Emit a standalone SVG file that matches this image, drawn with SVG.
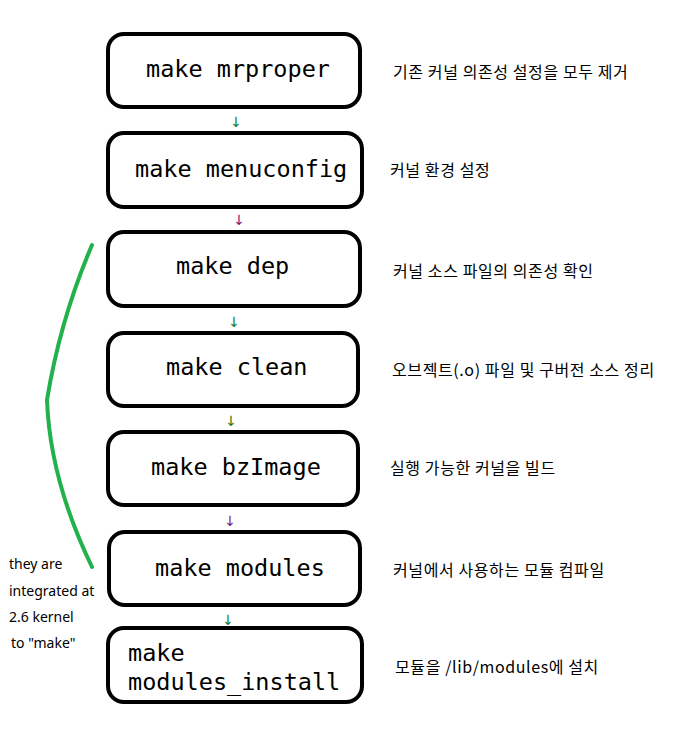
<svg xmlns="http://www.w3.org/2000/svg" width="680" height="749" viewBox="0 0 680 749">
<style>
.b{fill:#fff;stroke:#000;stroke-width:4}
.t{font-family:"DejaVu Sans Mono",monospace;font-size:23.5px;fill:#000}
.k{font-family:"Noto Sans CJK KR","Noto Sans",sans-serif;font-size:16px;letter-spacing:0.6px;fill:#000}
.a{font-family:"DejaVu Sans",sans-serif;font-size:14px;text-anchor:middle}
.n{font-family:"Noto Sans","Open Sans",sans-serif;font-size:14px;fill:#000}
</style>
<rect width="680" height="749" fill="#fff"/>
<g id="connectors">
<text class="a" x="236" y="127" fill="#1a7a1a">↓</text>
<text class="a" x="239" y="225" fill="#7a1a7a">↓</text>
<text class="a" x="234" y="327" fill="#1a7a1a">↓</text>
<text class="a" x="231" y="426" fill="#1a7a1a">↓</text>
<text class="a" x="230" y="526" fill="#7a1a7a">↓</text>
<text class="a" x="228" y="625" fill="#1a7a1a">↓</text>
</g>
<g id="n1"><rect class="b" x="108" y="34" width="252" height="73" rx="16"/><text class="t" x="146" y="77">make mrproper</text><text class="k" x="393" y="78">기존 커널 의존성 설정을 모두 제거</text></g>
<g id="n2"><rect class="b" x="108" y="133" width="254" height="74" rx="16"/><text class="t" x="135" y="177">make menuconfig</text><text class="k" x="390" y="176">커널 환경 설정</text></g>
<g id="n3"><rect class="b" x="108" y="232" width="252" height="74" rx="16"/><text class="t" x="176" y="274">make dep</text><text class="k" x="393" y="277">커널 소스 파일의 의존성 확인</text></g>
<g id="n4"><rect class="b" x="108" y="333" width="250" height="73" rx="16"/><text class="t" x="166" y="375">make clean</text><text class="k" x="392" y="376">오브젝트(.o) 파일 및 구버전 소스 정리</text></g>
<g id="n5"><rect class="b" x="108" y="432" width="250" height="73" rx="16"/><text class="t" x="151" y="475">make bzImage</text><text class="k" x="390" y="474">실행 가능한 커널을 빌드</text></g>
<g id="n6"><rect class="b" x="109" y="532" width="251" height="73" rx="16"/><text class="t" x="155" y="576">make modules</text><text class="k" x="393" y="576">커널에서 사용하는 모듈 컴파일</text></g>
<g id="n7"><rect class="b" x="108" y="628" width="254" height="74" rx="16"/><text class="t" x="128" y="661">make</text><text class="t" x="128" y="690">modules_install</text><text class="k" x="395" y="673">모듈을 /lib/modules에 설치</text></g>
<g id="note">
<path d="M92,245 Q60,320 47,400 Q50,480 92,567" fill="none" stroke="#22b14c" stroke-width="4" stroke-linecap="round"/>
<text class="n" x="9" y="569">they are</text>
<text class="n" x="9" y="596">integrated at</text>
<text class="n" x="9" y="622">2.6 kernel</text>
<text class="n" x="11" y="648">to "make"</text>
</g>
</svg>
